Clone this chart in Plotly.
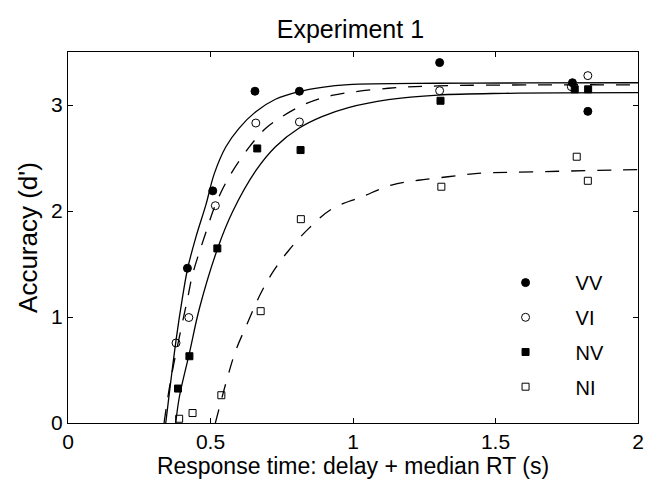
import plotly.graph_objects as go

# ---- data ----
conditions = ["VV", "VI", "NV", "NI"]

VV_x = [0.419, 0.508, 0.656, 0.812, 1.304, 1.770, 1.824]
VV_y = [1.46, 2.19, 3.13, 3.13, 3.40, 3.21, 2.94]
VI_x = [0.379, 0.424, 0.517, 0.659, 0.812, 1.304, 1.766, 1.824]
VI_y = [0.755, 0.995, 2.05, 2.83, 2.84, 3.135, 3.173, 3.277]
NV_x = [0.386, 0.426, 0.524, 0.664, 0.816, 1.307, 1.778, 1.825]
NV_y = [0.325, 0.63, 1.647, 2.59, 2.575, 3.04, 3.148, 3.148]
NI_x = [0.390, 0.437, 0.538, 0.676, 0.817, 1.310, 1.785, 1.824]
NI_y = [0.04, 0.094, 0.262, 1.055, 1.923, 2.229, 2.512, 2.285]

# fitted curves, points
VV_fit_x = [0.343, 0.379, 0.402, 0.420, 0.449, 0.484, 0.513, 0.554, 0.600, 0.659, 0.728, 0.810, 0.891, 0.984, 1.298, 1.600, 2.0]
VV_fit_y = [0.0, 0.78, 1.19, 1.46, 1.756, 2.06, 2.35, 2.606, 2.78, 2.937, 3.054, 3.126, 3.167, 3.192, 3.205, 3.208, 3.21]
VI_fit_x = [0.337, 0.362, 0.420, 0.437, 0.484, 0.519, 0.565, 0.635, 0.694, 0.751, 0.833, 0.926, 1.124, 1.298, 1.647, 2.0]
VI_fit_y = [0.0, 0.43, 1.18, 1.40, 1.80, 2.07, 2.32, 2.60, 2.78, 2.89, 3.01, 3.09, 3.158, 3.18, 3.19, 3.19]
NV_fit_x = [0.378, 0.391, 0.426, 0.461, 0.525, 0.577, 0.659, 0.728, 0.810, 0.891, 0.984, 1.124, 1.298, 1.531, 2.0]
NV_fit_y = [0.0, 0.25, 0.66, 1.08, 1.647, 1.99, 2.38, 2.606, 2.78, 2.89, 2.975, 3.05, 3.094, 3.11, 3.116]
NI_fit_x = [0.517, 0.560, 0.589, 0.629, 0.676, 0.723, 0.775, 0.845, 0.926, 1.031, 1.135, 1.229, 1.333, 1.438, 1.636, 1.927, 2.0]
NI_fit_y = [0.0, 0.434, 0.686, 0.938, 1.222, 1.442, 1.63, 1.836, 2.02, 2.134, 2.245, 2.29, 2.323, 2.355, 2.37, 2.386, 2.39]

x_ticks = [0, 0.5, 1, 1.5, 2]
x_tick_labels = ["0", "0.5", "1", "1.5", "2"]
y_ticks = [0, 1, 2, 3]
y_tick_labels = ["0", "1", "2", "3"]

FONT = "Liberation Sans, Arial, Helvetica, sans-serif"

fig = go.Figure()

fits = [
    (VV_fit_x, VV_fit_y, "solid"),
    (VI_fit_x, VI_fit_y, "14px,12px"),
    (NV_fit_x, NV_fit_y, "solid"),
    (NI_fit_x, NI_fit_y, "14px,12px"),
]
for fx, fy, dash in fits:
    fig.add_trace(go.Scatter(
        x=fx, y=fy, mode="lines", showlegend=False, hoverinfo="skip",
        line=dict(color="black", width=1.3, dash=dash, shape="spline", smoothing=1.0),
    ))

points = [
    ("VV", VV_x, VV_y, "circle", 8),
    ("VI", VI_x, VI_y, "circle-open", 8),
    ("NV", NV_x, NV_y, "square", 7),
    ("NI", NI_x, NI_y, "square-open", 7),
]
for name, px, py, sym, sz in points:
    fig.add_trace(go.Scatter(
        x=px, y=py, mode="markers", name=name, legendgroup=name,
        marker=dict(symbol=sym, size=sz, color="black",
                    line=dict(color="black", width=1)),
    ))

axis_common = dict(
    showline=True, linecolor="black", linewidth=1, mirror="ticks",
    ticks="inside", ticklen=5, tickcolor="black", tickwidth=1,
    showgrid=False, zeroline=False,
    tickfont=dict(family=FONT, size=21, color="black"),
)

fig.update_layout(
    width=655, height=484,
    margin=dict(l=68, r=11, t=52, b=60),
    paper_bgcolor="white", plot_bgcolor="white",
    font=dict(family=FONT, color="black"),
    title=dict(text="Experiment 1", x=0.535, xanchor="center",
               y=0.94, yanchor="middle", yref="container",
               font=dict(family=FONT, size=25, color="black")),
    xaxis=dict(range=[0, 2], tickvals=x_ticks, ticktext=x_tick_labels,
               title=dict(text="Response time: delay + median RT (s)",
                          font=dict(family=FONT, size=23, color="black"), standoff=4),
               **axis_common),
    yaxis=dict(range=[0, 3.5], tickvals=y_ticks, ticktext=y_tick_labels,
               title=dict(text="Accuracy (d')",
                          font=dict(family=FONT, size=26, color="black"), standoff=6),
               **axis_common),
    legend=dict(x=0.715, xanchor="left", y=0.431, yanchor="top",
                bgcolor="rgba(0,0,0,0)", borderwidth=0,
                font=dict(family=FONT, size=20, color="black"),
                itemwidth=90, traceorder="grouped", tracegroupgap=5.7),
)

fig.write_html("out.html",
               config={"displayModeBar": False},
               post_script="document.body.style.margin='0';document.body.style.padding='0';")
